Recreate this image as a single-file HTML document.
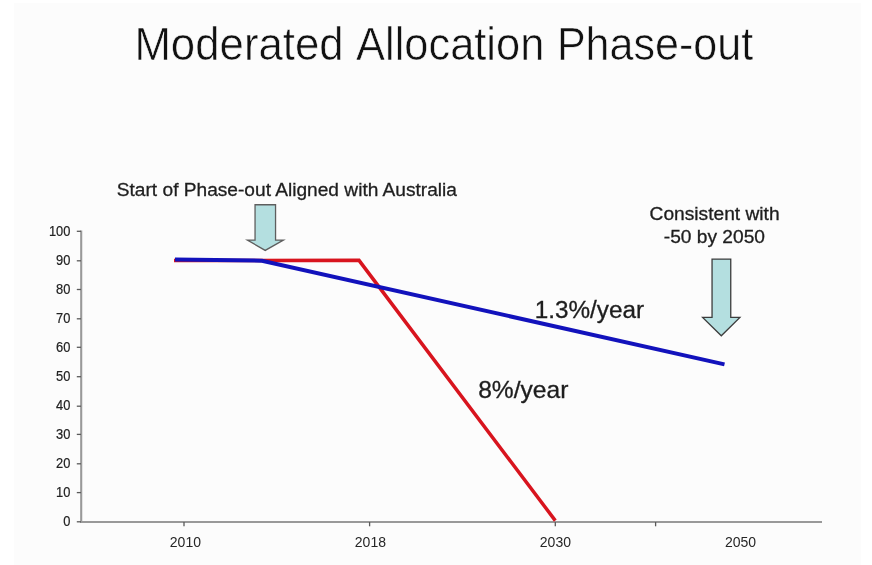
<!DOCTYPE html>
<html><head><meta charset="utf-8">
<style>
html,body{margin:0;padding:0;background:#fff;}
body{width:872px;height:565px;overflow:hidden;position:relative;}
svg{position:absolute;left:0;top:0;}
text{font-family:"Liberation Sans",Arial,Helvetica,sans-serif;}
</style></head><body>
<svg width="872" height="565" viewBox="0 0 872 565">
<rect width="872" height="565" fill="#fff"/>
<rect x="14" y="3" width="847" height="562" fill="#fcfcfc"/>
<g font-size="45.5" fill="#111" stroke="#fcfcfc" stroke-width="0.6">
<text x="134.4" y="59.6" textLength="209.3" lengthAdjust="spacingAndGlyphs">Moderated</text>
<text x="356.1" y="59.6" textLength="188.2" lengthAdjust="spacingAndGlyphs">Allocation</text>
<text x="556.9" y="59.6" textLength="196.2" lengthAdjust="spacingAndGlyphs">Phase-out</text>
</g>

<text x="116.8" y="196.4" font-size="19.1" textLength="340.2" lengthAdjust="spacingAndGlyphs" fill="#1e1e1e" stroke="#1e1e1e" stroke-width="0.3">Start of Phase-out Aligned with Australia</text>
<text x="649.6" y="219.8" font-size="18" textLength="130" lengthAdjust="spacingAndGlyphs" fill="#1e1e1e" stroke="#1e1e1e" stroke-width="0.3">Consistent with</text>
<text x="663.8" y="243" font-size="18" textLength="101.2" lengthAdjust="spacingAndGlyphs" fill="#1e1e1e" stroke="#1e1e1e" stroke-width="0.3">-50 by 2050</text>

<!-- axes -->
<g stroke="#999" stroke-width="2.1" fill="none">
<line x1="81.2" y1="230.4" x2="81.2" y2="522.9"/>
<line x1="80.25" y1="521.95" x2="822" y2="521.95"/>
</g>
<g stroke="#5a5a5a" stroke-width="1.3">
<line x1="76.8" y1="231.3" x2="81" y2="231.3"/>
<line x1="76.8" y1="260.8" x2="81" y2="260.8"/>
<line x1="76.8" y1="289.5" x2="81" y2="289.5"/>
<line x1="76.8" y1="318.8" x2="81" y2="318.8"/>
<line x1="76.8" y1="347.3" x2="81" y2="347.3"/>
<line x1="76.8" y1="376.7" x2="81" y2="376.7"/>
<line x1="76.8" y1="406.2" x2="81" y2="406.2"/>
<line x1="76.8" y1="434.4" x2="81" y2="434.4"/>
<line x1="76.8" y1="463.8" x2="81" y2="463.8"/>
<line x1="76.8" y1="492.6" x2="81" y2="492.6"/>
<line x1="76.8" y1="521.8" x2="81" y2="521.8"/>
<line x1="184" y1="522" x2="184" y2="526.3"/>
<line x1="369.6" y1="522" x2="369.6" y2="526.3"/>
<line x1="555.3" y1="522" x2="555.3" y2="526.3"/>
<line x1="655.6" y1="522" x2="655.6" y2="526.3"/>
</g>
<g font-size="14" text-anchor="end" fill="#222" stroke="#222" stroke-width="0.2">
<text transform="translate(70.4,235.50) scale(0.92,1)">100</text>
<text transform="translate(70.4,265.00) scale(0.92,1)">90</text>
<text transform="translate(70.4,293.70) scale(0.92,1)">80</text>
<text transform="translate(70.4,323.00) scale(0.92,1)">70</text>
<text transform="translate(70.4,351.50) scale(0.92,1)">60</text>
<text transform="translate(70.4,380.90) scale(0.92,1)">50</text>
<text transform="translate(70.4,410.40) scale(0.92,1)">40</text>
<text transform="translate(70.4,438.60) scale(0.92,1)">30</text>
<text transform="translate(70.4,468.00) scale(0.92,1)">20</text>
<text transform="translate(70.4,496.80) scale(0.92,1)">10</text>
<text transform="translate(70.4,526.00) scale(0.92,1)">0</text>
</g>
<g font-size="14" text-anchor="middle" fill="#262626">
<text x="185.4" y="546.6">2010</text>
<text x="370.4" y="546.6">2018</text>
<text x="555.4" y="546.6">2030</text>
<text x="740.6" y="546.6">2050</text>
</g>

<!-- lines -->
<polyline points="174,260.4 359,260.35 555.3,520.6" fill="none" stroke="#d8141e" stroke-width="3.5" stroke-linejoin="miter"/>
<polyline points="175,259.5 262,260.7 724.5,364.4" fill="none" stroke="#1212bc" stroke-width="4" stroke-linejoin="miter"/>

<!-- arrows -->
<path d="M255.05,204.75 H275.55 V240.05 H283.4 L265.2,250.4 L247.4,240.05 H255.05 Z" fill="#b4dfe0" stroke="#5e5e5e" stroke-width="1.3" stroke-linejoin="miter" stroke-miterlimit="10"/>
<path d="M712.05,259.05 H730.75 V317.45 H739.9 L721.3,335.8 L702.6,317.45 H712.05 Z" fill="#b4dfe0" stroke="#3c3c3c" stroke-width="1.3" stroke-linejoin="miter" stroke-miterlimit="10"/>

<text x="534.8" y="318.2" font-size="23" textLength="109.3" lengthAdjust="spacingAndGlyphs" fill="#1e1e1e" stroke="#1e1e1e" stroke-width="0.3">1.3%/year</text>
<text x="478.2" y="397.8" font-size="23.2" textLength="90.2" lengthAdjust="spacingAndGlyphs" fill="#1e1e1e" stroke="#1e1e1e" stroke-width="0.3">8%/year</text>
</svg>
</body></html>
